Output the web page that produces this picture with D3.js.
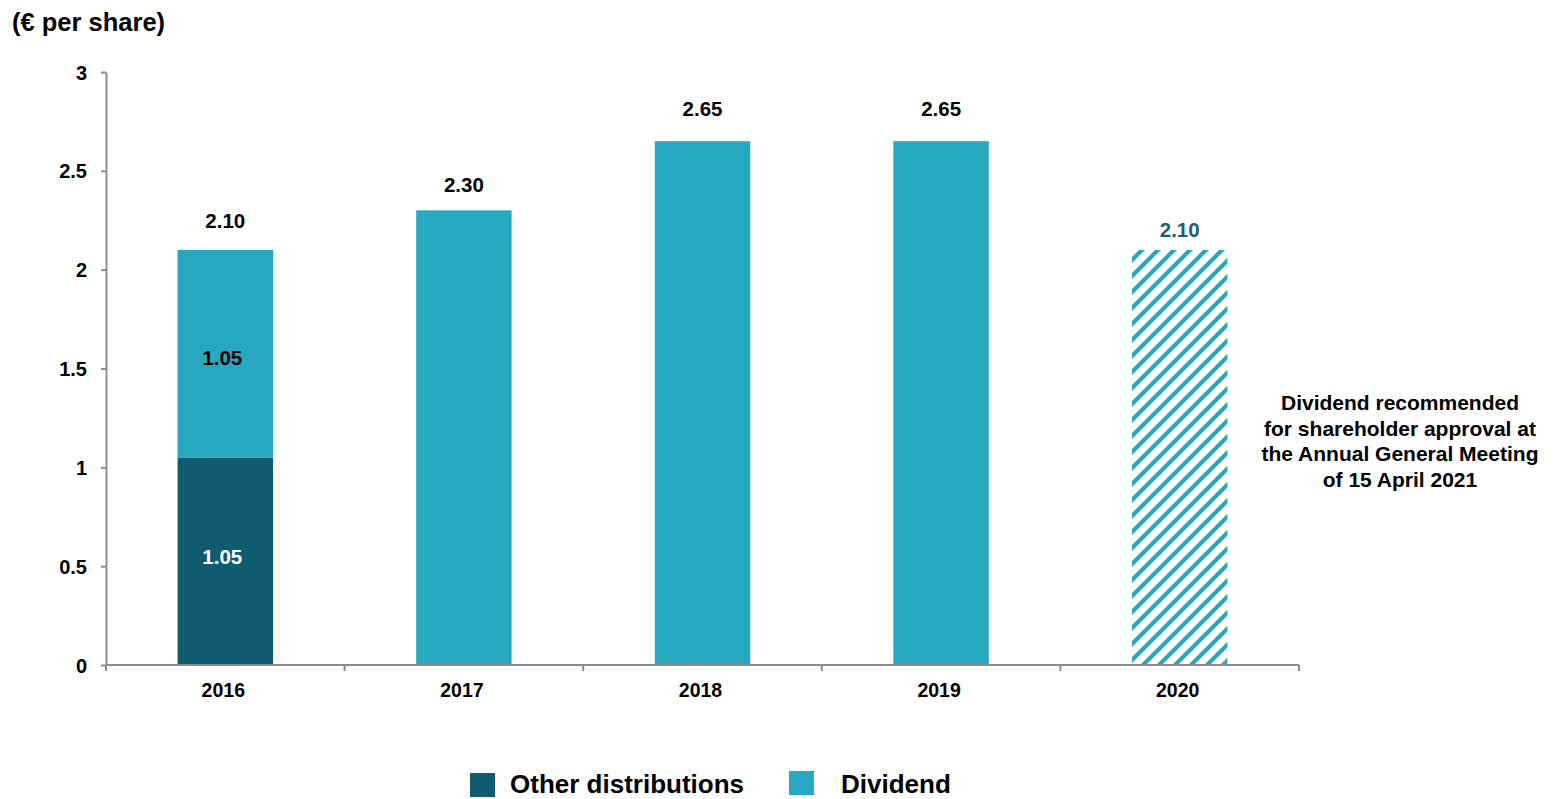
<!DOCTYPE html>
<html><head><meta charset="utf-8">
<script src="https://cdn.jsdelivr.net/npm/d3@7"></script>
<style>body{margin:0;background:#fff;} text{font-family:"Liberation Sans",Arial,sans-serif;font-weight:bold;}</style>
</head><body>
<svg id="c" width="1562" height="799"></svg>
<script>
const years = ["2016","2017","2018","2019","2020"];
const otherDistributions = [1.05, 0, 0, 0, 0];
const dividend = [1.05, 2.30, 2.65, 2.65, 2.10];
const totals = ["2.10","2.30","2.65","2.65","2.10"];
const proposed = [false,false,false,false,true];
const yTicks = [0,0.5,1,1.5,2,2.5,3];
const yTickLabels = ["0","0.5","1","1.5","2","2.5","3"];
const legendItems = ["Other distributions","Dividend"];

// label gaps above bars (style)
const labelGap = [22, 18, 25, 25, 13];

const cDark = "#0f5b70", cLight = "#27a8c1", axisC = "#8c8c8c";
const svg = d3.select("#c");
const defs = svg.append("defs");
const pat = defs.append("pattern").attr("id","hatch").attr("patternUnits","userSpaceOnUse")
  .attr("width",16).attr("height",16).attr("x",0).attr("y",0);
pat.append("path").attr("d","M-4,4 l8,-8 M0,16 l16,-16 M12,20 l8,-8")
  .attr("stroke",cLight).attr("stroke-width",4.2);

const x = d3.scaleBand().domain(years).range([106,1299]).paddingInner(0).paddingOuter(0);
const y = d3.scaleLinear().domain([0,3]).range([665,72]);
const bw = x.bandwidth()*0.4;

// axes
const yAx = svg.append("g").attr("transform","translate(106,0)")
  .call(d3.axisLeft(y).tickValues(yTicks).tickFormat((d,i)=>yTickLabels[i]).tickSize(5).tickSizeOuter(0));
yAx.attr("font-size",null).attr("font-family",null);
yAx.select(".domain").attr("stroke",axisC).attr("stroke-width",2);
yAx.selectAll(".tick line").attr("stroke",axisC).attr("stroke-width",2);
yAx.selectAll(".tick text").attr("font-size",20).attr("fill","#000").attr("x",-19).attr("dy","0.35em");

// bars
years.forEach((yr,i)=>{
  const cx = x(yr)+x.bandwidth()/2;
  if(otherDistributions[i]>0){
    svg.append("rect").attr("x",cx-bw/2).attr("width",bw)
      .attr("y",y(otherDistributions[i])).attr("height",y(0)-y(otherDistributions[i])).attr("fill",cDark);
  }
  const base = otherDistributions[i];
  const top = base+dividend[i];
  svg.append("rect").attr("x",cx-bw/2).attr("width",bw)
    .attr("y",y(top)).attr("height",y(base)-y(top))
    .attr("fill",proposed[i]?"url(#hatch)":cLight);
  svg.append("text").attr("x",cx).attr("y",y(top)-labelGap[i]).attr("text-anchor","middle")
    .attr("font-size",20.5).attr("fill",proposed[i]?"#1b6079":"#000").text(totals[i]);
  if(otherDistributions[i]>0){
    svg.append("text").attr("x",cx-3).attr("y",y(otherDistributions[i]/2)+3).attr("text-anchor","middle")
      .attr("font-size",20.5).attr("fill","#fff").text(otherDistributions[i].toFixed(2));
    svg.append("text").attr("x",cx-3).attr("y",y(base+dividend[i]/2)+11).attr("text-anchor","middle")
      .attr("font-size",20.5).attr("fill","#000").text(dividend[i].toFixed(2));
  }
});

const xAx = svg.append("g").attr("transform","translate(0,665)");
xAx.append("line").attr("x1",106).attr("x2",1299).attr("stroke",axisC).attr("stroke-width",2);
const bounds = years.map(d=>x(d)).concat([x(years[years.length-1])+x.bandwidth()]);
bounds.forEach(b=>xAx.append("line").attr("x1",b).attr("x2",b).attr("y1",0).attr("y2",6).attr("stroke",axisC).attr("stroke-width",2));
years.forEach(yr=>xAx.append("text").attr("x",x(yr)+x.bandwidth()/2-2).attr("y",32).attr("text-anchor","middle")
  .attr("font-size",19.5).attr("fill","#000").text(yr));

// title
svg.append("text").attr("x",12).attr("y",31).attr("font-size",25.5).attr("fill","#000").text("(€ per share)");

// annotation
const ann = ["Dividend recommended","for shareholder approval at","the Annual General Meeting","of 15 April 2021"];
ann.forEach((t,i)=>svg.append("text").attr("x",1400).attr("y",410+i*25.5).attr("text-anchor","middle")
  .attr("font-size",21).attr("fill","#000").text(t));

// legend
const lg = [{x:470,y:773,c:cDark,tx:510},{x:789,y:771,c:cLight,tx:841}];
legendItems.forEach((t,i)=>{
  svg.append("rect").attr("x",lg[i].x).attr("y",lg[i].y).attr("width",25).attr("height",24).attr("fill",lg[i].c);
  svg.append("text").attr("x",lg[i].tx).attr("y",793).attr("font-size",26).attr("fill","#000").text(t);
});
</script>
</body></html>
